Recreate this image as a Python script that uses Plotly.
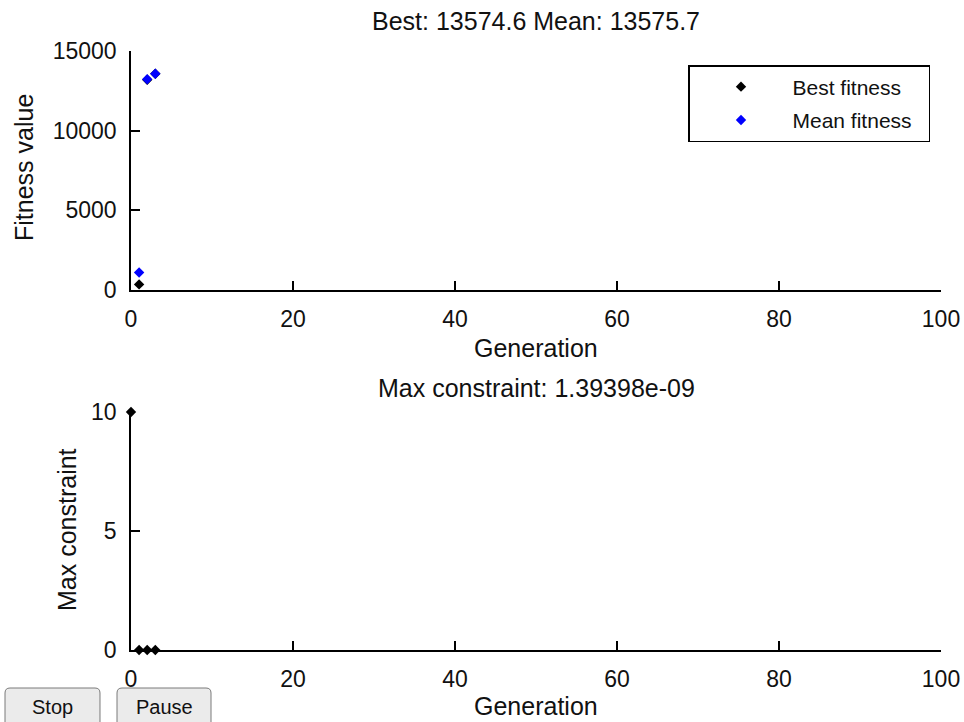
import re
import plotly.graph_objects as go

# Data
gen_best = [1, 2, 3]
best_fitness = [350, 13200, 13574.6]
gen_mean = [1, 2, 3]
mean_fitness = [1100, 13230, 13575.7]
gen_con = [0, 1, 2, 3]
max_constraint = [10, 0.0, 0.0, 0.0]

x_ticks = [0, 20, 40, 60, 80, 100]
y1_ticks = [0, 5000, 10000, 15000]
y2_ticks = [0, 5, 10]

top_title = "Best: 13574.6 Mean: 13575.7"
bot_title = "Max constraint: 1.39398e-09"

W, H = 964, 722
FONT = "Liberation Sans"
fs_tick = 23
fs_lab = 25
PAD = "\u00a0\u00a0"  # right padding inside the legend box


def px(x):
    return x / W


def py(y):
    return 1 - y / H


fig = go.Figure()
fig.add_trace(go.Scatter(x=gen_best, y=best_fitness, mode="markers", name="Best fitness" + PAD,
                         legendgroup="best",
                         marker=dict(symbol="diamond", size=8, color="black"),
                         xaxis="x", yaxis="y", cliponaxis=False))
fig.add_trace(go.Scatter(x=gen_mean, y=mean_fitness, mode="markers", name="Mean fitness" + PAD,
                         legendgroup="mean",
                         marker=dict(symbol="diamond", size=8, color="#0000ff"),
                         xaxis="x", yaxis="y", cliponaxis=False))
fig.add_trace(go.Scatter(x=gen_con, y=max_constraint, mode="markers", name="Max constraint",
                         marker=dict(symbol="diamond", size=8, color="black"),
                         xaxis="x2", yaxis="y2", showlegend=False, cliponaxis=False))

xd = [px(131), px(941)]
ytop = [py(290), py(51)]
ybot = [py(650), py(412)]


def ax(**kw):
    d = dict(showgrid=False, zeroline=False, showline=True, linecolor="black", linewidth=1.5,
             ticks="inside", ticklen=9, tickcolor="black", tickwidth=1.5, automargin=False,
             tickfont=dict(family=FONT, size=fs_tick, color="#111111"))
    d.update(kw)
    return d


fig.update_layout(
    template="none",
    width=W, height=H, margin=dict(l=0, r=0, t=0, b=0, pad=0), autosize=False,
    paper_bgcolor="white", plot_bgcolor="white",
    font=dict(family=FONT, size=fs_tick, color="black"),
    xaxis=ax(domain=xd, range=[0, 100], tickvals=x_ticks, ticktext=[str(v) for v in x_ticks],
             anchor="y", ticklabelstandoff=8),
    yaxis=ax(domain=ytop, range=[0, 15000], tickvals=y1_ticks, ticktext=[str(v) for v in y1_ticks],
             anchor="x", ticklabelstandoff=8),
    xaxis2=ax(domain=xd, range=[0, 100], tickvals=x_ticks, ticktext=[str(v) for v in x_ticks],
              anchor="y2", ticklabelstandoff=8),
    yaxis2=ax(domain=ybot, range=[0, 10], tickvals=y2_ticks, ticktext=[str(v) for v in y2_ticks],
              anchor="x2", ticklabelstandoff=8),
    legend=dict(x=px(688), y=py(65), xanchor="left", yanchor="top",
                bordercolor="black", borderwidth=1.5, bgcolor="white",
                font=dict(family=FONT, size=21, color="#111111"), itemwidth=93,
                tracegroupgap=3),
    showlegend=True,
)

ann = [
    dict(text=top_title, x=px(536), y=py(21)),
    dict(text="Generation", x=px(536), y=py(348)),
    dict(text=bot_title, x=px(536), y=py(388)),
    dict(text="Generation", x=px(536), y=py(706)),
    dict(text="Fitness value", x=px(24), y=py(168), textangle=-90),
    dict(text="Max constraint", x=px(67), y=py(530), textangle=-90),
]
for a in ann:
    a.update(xref="paper", yref="paper", showarrow=False, xanchor="center", yanchor="middle",
             font=dict(family=FONT, size=fs_lab, color="#111111"))
    fig.add_annotation(**a)


def px_path(path):
    out = []
    is_x = True
    for tok in re.split(r"\s+", path.strip()):
        if tok.isalpha():
            out.append(tok)
            is_x = True
        else:
            v = float(tok)
            out.append(f"{px(v):.5f}" if is_x else f"{py(v):.5f}")
            is_x = not is_x
    return " ".join(out)


for label, x0, x1 in [("Stop", 5, 100), ("Pause", 117, 211)]:
    y0, y1 = 688, 728
    r = 5
    path = (f"M {x0+r} {y0} L {x1-r} {y0} Q {x1} {y0} {x1} {y0+r} L {x1} {y1-r} "
            f"Q {x1} {y1} {x1-r} {y1} L {x0+r} {y1} Q {x0} {y1} {x0} {y1-r} "
            f"L {x0} {y0+r} Q {x0} {y0} {x0+r} {y0} Z")
    fig.add_shape(type="path", xref="paper", yref="paper", path=px_path(path),
                  fillcolor="#ebebeb", line=dict(color="#7a7a7a", width=1), layer="below")
    fig.add_annotation(text=label, x=px((x0 + x1) / 2), y=py(707), xref="paper", yref="paper",
                       showarrow=False, xanchor="center", yanchor="middle",
                       font=dict(family=FONT, size=20, color="#111111"))

fig.write_html(
    "out.html",
    config={"displayModeBar": False},
    post_script=("document.body.style.margin='0';"
                 "document.body.style.overflow='hidden';"
                 "document.documentElement.style.overflow='hidden';"),
)
